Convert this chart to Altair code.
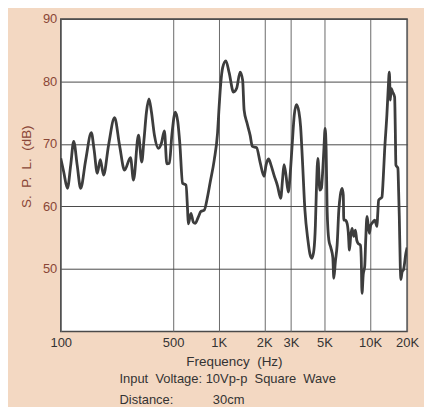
import altair as alt
import pandas as pd

# Frequency response (Hz, dB SPL)
freq_hz = [90.5, 94.7, 100.2, 105.3, 110.2, 116.2, 122.5, 132.2, 144.1, 150.4,
           157.8, 165.2, 173.6, 187.3, 205.2, 221.3, 238.8, 261.5, 273.6, 295.1,
           310.2, 320.8, 333.3, 346.2, 359.5, 376.3, 399.7, 418.3, 437.7, 454.6,
           472.2, 490.4, 517, 537, 553.5, 577.5, 608.1, 623, 629.7, 656.1,
           679.4, 700.4, 733, 763.5, 802.6, 840, 879, 934.1, 982.1, 1008,
           1031, 1062, 1115, 1172, 1252, 1314, 1385, 1439, 1472, 1540,
           1612, 1669, 1779, 1876, 1993, 2054, 2134, 2216, 2319, 2446,
           2568, 2638, 2699, 2782, 2881, 2979, 3061, 3155, 3263, 3388,
           3477, 3573, 3711, 3884, 4004, 4127, 4254, 4352, 4418, 4519,
           4658, 4765, 4875, 4949, 5048, 5125, 5203, 5340, 5503, 5673,
           5760, 5893, 6056, 6215, 6358, 6531, 6651, 6702, 6857, 7046,
           7175, 7306, 7452, 7600, 7798, 8002, 8162, 8324, 8632, 8737,
           8844, 9007, 9214, 9354, 9541, 9716, 9895, 10093, 10292, 10722,
           11102, 11220, 11390, 11974, 12194, 12475, 12920, 13158, 13397, 13602,
           13769, 14085, 14520, 14675, 14807, 15263, 15426, 15590, 15830, 15973,
           16266, 16641, 17233, 17550]

spl_db = [67.7, 65.5, 62.9, 66.6, 70.4, 66.6, 62.9, 67.4, 71.8, 69.0,
          65.3, 67.5, 65.0, 69.8, 74.2, 69.8, 65.8, 67.8, 64.2, 71.4,
          67.1, 70.6, 75.1, 77.2, 75.1, 71.4, 69.3, 70.1, 72.1, 66.8,
          66.9, 71.4, 75.1, 73.5, 70.1, 63.7, 63.4, 59.4, 57.2, 58.9,
          57.5, 57.3, 58.3, 59.2, 59.4, 61.3, 63.9, 67.4, 71.7, 76.2,
          79.6, 82.2, 83.3, 81.4, 78.3, 78.9, 81.5, 80.2, 75.4, 73.3,
          71.4, 69.6, 69.4, 67.1, 64.8, 66.6, 67.6, 66.6, 65.0, 63.3,
          61.3, 64.2, 66.7, 65.0, 62.3, 65.8, 70.1, 74.6, 76.3, 75.1,
          72.7, 67.4, 59.4, 54.6, 52.4, 51.7, 53.0, 57.0, 62.6, 67.7,
          62.6, 62.9, 66.1, 69.0, 72.5, 69.0, 59.4, 54.6, 53.4, 51.8,
          48.5, 51.1, 53.8, 59.4, 61.8, 62.9, 61.8, 57.8, 57.8, 57.3,
          55.9, 53.0, 55.4, 56.5, 55.2, 56.2, 54.6, 54.1, 53.8, 51.8,
          46.1, 49.1, 50.4, 54.6, 58.4, 57.0, 55.7, 57.0, 57.3, 57.8,
          56.8, 58.6, 61.0, 61.5, 64.2, 69.0, 74.8, 78.6, 81.5, 77.0,
          78.9, 78.3, 77.5, 72.2, 66.6, 66.1, 62.6, 58.4, 50.4, 48.3,
          49.5, 49.9, 52.5, 53.4]

# Axis ticks (edge ticks carry the printed "100" / "20K" labels of the chart paper)
x_domain = [90.5, 17550]
x_ticks = [90.5, 500, 1000, 2000, 3000, 5000, 10000, 17550]
y_ticks = [50, 60, 70, 80, 90]

NB = "\u00a0"
note_line1 = f"Input {NB}Voltage: 10Vp-p {NB}Square {NB}Wave"
note_line2 = "Distance:" + NB * 11 + "30cm"
x_title = f"Frequency {NB}(Hz)"
y_title = f"S. {NB}P. {NB}L. {NB}(dB)"

df = pd.DataFrame({"f": freq_hz, "spl": spl_db})

label_expr = ("datum.value < 100 ? '100' : datum.value > 15000 ? '20K' : "
              "datum.value >= 1000 ? (datum.value / 1000) + 'K' : '' + datum.value")

line = alt.Chart(df).mark_line(
    color="#3d3d3d", strokeWidth=2.8, interpolate="monotone", clip=True
).encode(
    x=alt.X("f:Q",
            scale=alt.Scale(type="log", domain=x_domain, nice=False),
            axis=alt.Axis(values=x_ticks, labelExpr=label_expr, title=x_title,
                          grid=True, gridColor="#6a6a6a", gridWidth=1,
                          ticks=False, domain=False, labelPadding=5,
                          labelFontSize=13, labelColor="#333333",
                          labelOverlap=False, labelFlush=False,
                          titleFontSize=13.5, titleFontWeight="normal",
                          titleColor="#333333", titlePadding=5)),
    y=alt.Y("spl:Q",
            scale=alt.Scale(domain=[40, 90], nice=False, zero=False),
            axis=alt.Axis(values=y_ticks, title=y_title,
                          grid=True, gridColor="#4a4a4a", gridWidth=1,
                          ticks=False, domain=False, labelPadding=4,
                          labelFontSize=13, labelColor="#8a4636",
                          titleFontSize=13.5, titleFontWeight="normal",
                          titleColor="#8a4636", titleX=-27, titleY=148,
                          titleBaseline="bottom", titleAlign="center")),
)

notes1 = alt.Chart(pd.DataFrame({"t": [note_line1]})).mark_text(
    align="left", baseline="middle", fontSize=13, color="#333333"
).encode(text="t:N", x=alt.value(59), y=alt.value(362))

notes2 = alt.Chart(pd.DataFrame({"t": [note_line2]})).mark_text(
    align="left", baseline="middle", fontSize=13, color="#333333"
).encode(text="t:N", x=alt.value(59), y=alt.value(383))

chart = alt.layer(line, notes1, notes2).properties(
    width=348, height=314,
    autosize=alt.AutoSizeParams(type="none"),
    padding={"left": 53, "top": 10, "right": 17, "bottom": 75},
    background="#f3d8c2",
).configure(
    font="Liberation Sans",
).configure_view(
    fill="white", stroke="#4a4a4a", strokeWidth=1.5,
)

chart.save("out.html", embed_options={"renderer": "svg", "actions": False})
